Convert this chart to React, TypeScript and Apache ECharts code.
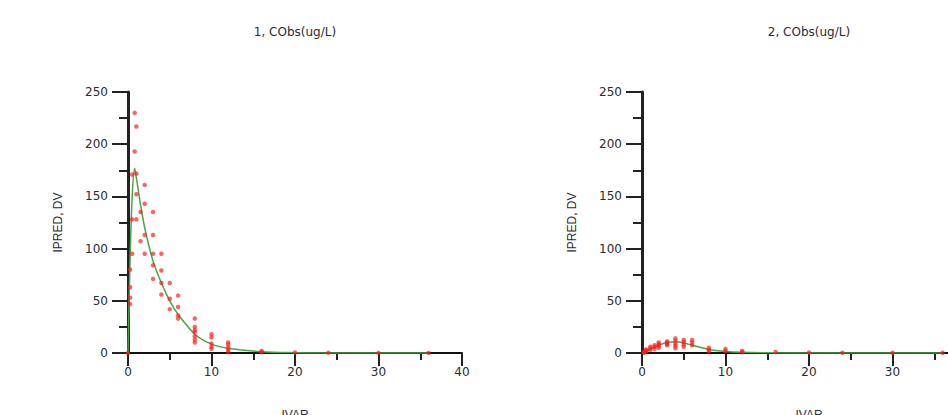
import React, { useEffect, useRef } from "react";
import * as echarts from "echarts";

// ---- Panel 1: CObs(ug/L), subject/group 1 ----
const predTime1 = [0, 0.25, 0.5, 0.8, 1, 1.5, 2, 3, 4, 5, 6, 8, 10, 12, 16, 20, 24, 30, 36];
const predValue1 = [0, 90, 150, 177, 168, 142, 120, 88, 67, 50, 37, 18, 8.5, 4.5, 1.2, 0.3, 0.1, 0.02, 0.01];

const obsTime1 = [
  0, 0.25, 0.25, 0.25, 0.25, 0.5, 0.5, 0.5, 0.8, 0.8,
  1, 1, 1, 1, 1.5, 1.5, 2, 2, 2, 2,
  3, 3, 3, 3, 3, 4, 4, 4, 4, 5, 5, 5,
  6, 6, 6, 6, 8, 8, 8, 8, 8, 8, 8,
  10, 10, 10, 10, 10, 12, 12, 12, 12, 12,
  16, 16, 20, 24, 30, 36,
];
const obsValue1 = [
  0, 80, 63, 53, 47, 171, 128, 95, 230, 193,
  217, 172, 152, 128, 135, 107, 161, 143, 113, 95,
  135, 113, 95, 84, 71, 95, 79, 67, 56, 67, 52, 42,
  55, 44, 36, 33, 33, 25, 22, 20, 16, 13, 10,
  18, 15, 9, 6, 4, 10, 8, 5, 3, 1,
  2, 1, 0.5, 0.3, 0.1, 0.1,
];

// ---- Panel 2: CObs(ug/L), subject/group 2 ----
const predTime2 = [0, 0.5, 1, 1.5, 2, 3, 4, 5, 6, 8, 10, 12, 16, 20, 24, 30, 36];
const predValue2 = [0, 1.5, 3.5, 5.5, 7.5, 10, 10.8, 9.6, 7.5, 3.4, 1.5, 0.6, 0.2, 0.05, 0.01, 0, 0];

const obsTime2 = [
  0.25, 0.25, 0.5, 0.5, 0.5, 1, 1, 1, 1.5, 1.5, 1.5,
  2, 2, 2, 2, 3, 3, 3, 3, 4, 4, 4, 4, 4,
  5, 5, 5, 5, 6, 6, 6, 8, 8, 8, 10, 10, 12, 12,
  16, 20, 24, 30, 36,
];
const obsValue2 = [
  0.5, 1, 1.5, 2.5, 3.5, 3, 4.5, 6, 4, 6, 7.5,
  5, 7, 8.5, 10, 11, 10, 8.5, 7.5, 14, 11.5, 9, 7, 4.5,
  12.5, 10.5, 8, 6, 12.5, 10, 7.5, 5, 3, 1.5, 4, 2, 2, 1,
  1, 0.5, 0.3, 0.3, 0.3,
];

const panelTitles = ["1, CObs(ug/L)", "2, CObs(ug/L)"];
const xName = "IVAR";
const yName = "IPRED, DV";

const xMin = 0, xMax = 40, xStep = 10;
const yMin = 0, yMax = 250, yStep = 50;

const zip = (a: number[], b: number[]) => a.map((v, i) => [v, b[i]]);

export default function App() {
  const ref = useRef<HTMLDivElement>(null);
  useEffect(() => {
    if (!ref.current) return;
    const chart = echarts.init(ref.current, undefined, { renderer: "svg" });
    const gridLefts = [128, 642];
    const textColor = "#2b2b33";
    const font = "DejaVu Sans";
    const mkX = (i: number) => ({
      type: "value",
      gridIndex: i,
      min: xMin,
      max: xMax,
      interval: xStep,
      name: xName,
      nameLocation: "middle",
      nameGap: 56,
      nameTextStyle: { fontFamily: "Liberation Sans", fontSize: 12, color: textColor },
      axisLine: { show: true, onZero: false, lineStyle: { color: "#111", width: 2 } },
      axisTick: { show: true, length: 13, lineStyle: { color: "#222", width: 2 } },
      minorTick: { show: true, splitNumber: 2, length: 7, lineStyle: { color: "#222", width: 2 } },
      splitLine: { show: false },
      axisLabel: { fontFamily: font, fontSize: 12, color: textColor, margin: 13 },
    });
    const mkY = (i: number) => ({
      type: "value",
      gridIndex: i,
      min: yMin,
      max: yMax,
      interval: yStep,
      name: yName,
      nameLocation: "middle",
      nameGap: 64,
      nameRotate: 90,
      nameTextStyle: { fontFamily: "Liberation Sans", fontSize: 12, color: textColor },
      axisLine: { show: true, onZero: false, lineStyle: { color: "#222", width: 3 } },
      axisTick: { show: true, length: 16, lineStyle: { color: "#222", width: 2 } },
      minorTick: { show: true, splitNumber: 2, length: 9, lineStyle: { color: "#222", width: 2 } },
      splitLine: { show: false },
      axisLabel: { fontFamily: font, fontSize: 12, color: textColor, margin: 20 },
    });
    const preds = [zip(predTime1, predValue1), zip(predTime2, predValue2)];
    const obs = [zip(obsTime1, obsValue1), zip(obsTime2, obsValue2)];
    const series: any[] = [];
    [0, 1].forEach((i) => {
      series.push({
        type: "line",
        xAxisIndex: i,
        yAxisIndex: i,
        data: preds[i],
        showSymbol: false,
        symbol: "none",
        smooth: 0.3,
        lineStyle: { color: "#45a845", width: 1.5 },
        z: 3,
      });
      series.push({
        type: "scatter",
        xAxisIndex: i,
        yAxisIndex: i,
        data: obs[i],
        symbol: "circle",
        symbolSize: 4.5,
        itemStyle: { color: "rgba(255,25,25,0.85)" },
        z: 4,
      });
    });
    chart.setOption({
      animation: false,
      backgroundColor: "#fff",
      grid: gridLefts.map((l) => ({
        left: l,
        top: 92,
        width: 334,
        height: 261,
        outerBoundsMode: "none",
        containLabel: false,
      })),
      xAxis: [mkX(0), mkX(1)],
      yAxis: [mkY(0), mkY(1)],
      series,
      graphic: panelTitles.map((t, i) => ({
        type: "text",
        x: gridLefts[i] + 167,
        y: 32,
        style: {
          text: t,
          fontFamily: font,
          fontSize: 12,
          fill: textColor,
          textAlign: "center",
          textVerticalAlign: "middle",
        },
      })),
    });
    return () => chart.dispose();
  }, []);
  return (
    <div
      ref={ref}
      style={{ position: "fixed", left: 0, top: 0, width: 948, height: 415, background: "#fff" }}
    />
  );
}
